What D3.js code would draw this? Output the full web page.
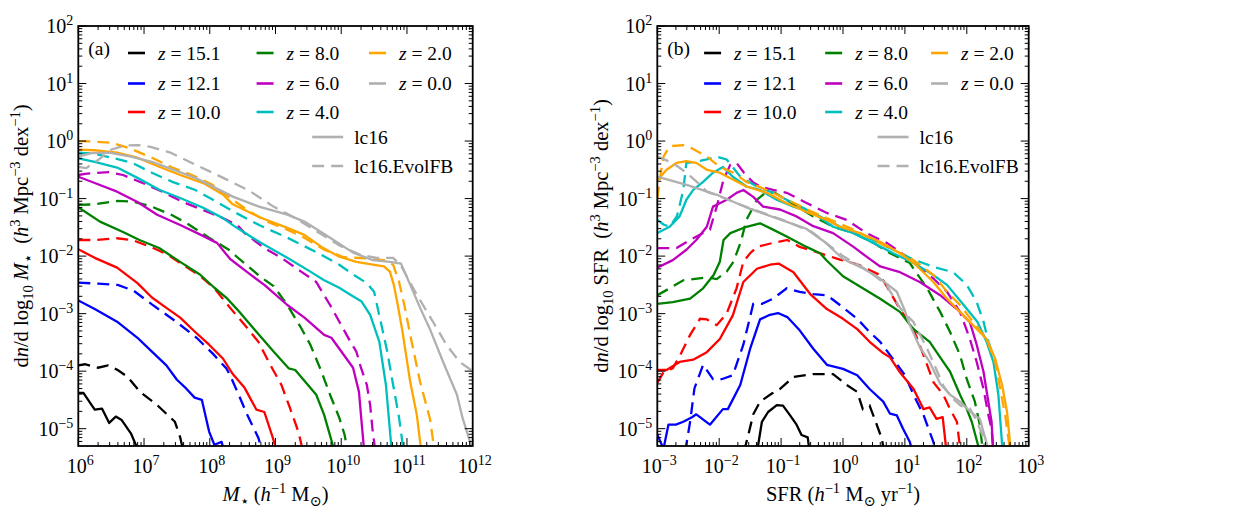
<!DOCTYPE html>
<html>
<head>
<meta charset="utf-8">
<script src="https://cdn.jsdelivr.net/npm/d3@7"></script>
<style>
  body { margin: 0; background: #fff; }
  svg text { font-family: "Liberation Serif", "DejaVu Serif", serif; white-space: pre; }
</style>
</head>
<body>
<svg id="chart" width="1240" height="525"></svg>
<script>
// values are [log10 x, log10 y]
const redshifts = ["15.1", "12.1", "10.0", "8.0", "6.0", "4.0", "2.0", "0.0"];
const zColors = ["#000000", "#0000ff", "#ff0000", "#008000", "#bf00bf", "#00bfbf", "#ffa500", "#b0b0b0"];

const xTicksSmf = [6, 7, 8, 9, 10, 11, 12];
const xTicksSfr = [-3, -2, -1, 0, 1, 2, 3];
const yTicks = [-5, -4, -3, -2, -1, 0, 1, 2];

// (a) stellar mass function, lc16
const smfLc16Z15 = [[6.0,-4.38],[6.08,-4.38],[6.25,-4.67],[6.36,-4.65],[6.47,-4.9],[6.57,-4.79],[6.66,-4.85],[6.8,-5.08],[6.92,-5.4]];
const smfLc16Z12 = [[6.0,-2.77],[6.25,-2.92],[6.59,-3.14],[6.9,-3.42],[7.12,-3.66],[7.34,-3.9],[7.5,-4.15],[7.64,-4.3],[7.77,-4.46],[7.88,-4.5],[7.99,-5.05],[8.07,-5.28],[8.18,-5.23],[8.22,-5.4]];
const smfLc16Z10 = [[6.0,-1.88],[6.25,-2.03],[6.59,-2.2],[6.9,-2.47],[7.12,-2.72],[7.34,-2.9],[7.55,-3.07],[7.77,-3.31],[7.99,-3.54],[8.2,-3.78],[8.35,-4.05],[8.53,-4.29],[8.71,-4.67],[8.83,-4.71],[8.96,-5.16],[9.02,-5.4]];
const smfLc16Z8 = [[6.0,-1.15],[6.33,-1.4],[6.68,-1.58],[6.93,-1.72],[7.23,-1.86],[7.55,-2.1],[7.85,-2.32],[8.07,-2.55],[8.25,-2.72],[8.42,-2.93],[8.66,-3.25],[8.97,-3.66],[9.2,-3.95],[9.3,-3.98],[9.62,-4.41],[9.74,-4.76],[9.85,-5.2],[9.9,-5.4]];
const smfLc16Z6 = [[6.0,-0.62],[6.25,-0.73],[6.59,-0.88],[6.9,-1.06],[7.2,-1.28],[7.55,-1.46],[7.81,-1.6],[8.11,-1.77],[8.31,-2.05],[8.57,-2.28],[8.83,-2.5],[9.18,-2.85],[9.44,-3.07],[9.74,-3.37],[9.85,-3.42],[10.04,-3.72],[10.18,-3.94],[10.27,-4.36],[10.3,-4.76],[10.35,-5.4]];
const smfLc16Z4 = [[6.0,-0.3],[6.25,-0.36],[6.59,-0.46],[6.9,-0.64],[7.24,-0.85],[7.55,-0.99],[7.9,-1.16],[8.2,-1.34],[8.4,-1.5],[8.75,-1.75],[9.18,-2.03],[9.53,-2.27],[9.74,-2.42],[9.97,-2.55],[10.14,-2.67],[10.31,-2.79],[10.44,-3.02],[10.58,-3.49],[10.68,-4.24],[10.76,-5.28],[10.78,-5.4]];
const smfLc16Z2 = [[6.0,-0.15],[6.25,-0.16],[6.59,-0.2],[6.9,-0.29],[7.24,-0.45],[7.55,-0.59],[7.9,-0.73],[8.2,-0.93],[8.35,-1.1],[8.75,-1.32],[9.18,-1.51],[9.44,-1.63],[9.7,-1.84],[9.97,-2.01],[10.23,-2.1],[10.48,-2.15],[10.65,-2.18],[10.74,-2.27],[10.8,-2.5],[10.86,-2.85],[10.93,-3.3],[11.05,-4.19],[11.15,-4.76],[11.2,-5.23],[11.22,-5.4]];
const smfLc16Z0 = [[6.0,-0.27],[6.2,-0.21],[6.47,-0.2],[6.8,-0.27],[7.12,-0.36],[7.78,-0.64],[8.36,-0.97],[8.75,-1.14],[9.18,-1.28],[9.44,-1.4],[9.83,-1.68],[10.18,-1.94],[10.48,-2.07],[10.74,-2.1],[10.91,-2.13],[11.05,-2.5],[11.2,-2.9],[11.35,-3.27],[11.55,-3.84],[11.76,-4.41],[11.85,-4.83],[11.96,-5.23],[12.0,-5.4]];

// (a) stellar mass function, lc16.EvolFB
const smfEvolZ15 = [[6.0,-3.9],[6.1,-3.88],[6.3,-3.94],[6.45,-3.9],[6.6,-3.98],[6.75,-4.1],[6.94,-4.36],[7.2,-4.59],[7.47,-4.88],[7.55,-5.15],[7.6,-5.4]];
const smfEvolZ12 = [[6.0,-2.46],[6.3,-2.48],[6.6,-2.5],[6.84,-2.6],[7.12,-2.84],[7.5,-3.15],[7.8,-3.42],[8.05,-3.7],[8.25,-3.95],[8.3,-4.05],[8.44,-4.41],[8.57,-4.76],[8.74,-5.16],[8.8,-5.4]];
const smfEvolZ10 = [[6.0,-1.72],[6.25,-1.72],[6.59,-1.69],[6.82,-1.72],[7.12,-1.85],[7.35,-1.97],[7.55,-2.12],[7.85,-2.34],[8.07,-2.56],[8.31,-2.9],[8.57,-3.25],[8.74,-3.49],[8.92,-3.89],[9.09,-4.24],[9.22,-4.64],[9.35,-5.06],[9.42,-5.4]];
const smfEvolZ8 = [[6.0,-1.11],[6.25,-1.1],[6.59,-1.04],[6.82,-1.05],[7.12,-1.14],[7.43,-1.29],[7.68,-1.45],[7.99,-1.68],[8.29,-1.89],[8.42,-2.02],[8.76,-2.35],[8.97,-2.52],[9.18,-2.85],[9.39,-3.25],[9.53,-3.54],[9.7,-4.01],[9.83,-4.41],[9.97,-4.81],[10.05,-5.1],[10.1,-5.4]];
const smfEvolZ6 = [[6.0,-0.59],[6.1,-0.57],[6.47,-0.54],[6.68,-0.59],[6.98,-0.73],[7.28,-0.88],[7.59,-1.06],[7.9,-1.2],[8.2,-1.34],[8.42,-1.46],[8.53,-1.6],[8.83,-1.86],[9.09,-2.03],[9.39,-2.27],[9.62,-2.45],[9.83,-2.85],[10.0,-3.2],[10.14,-3.49],[10.23,-3.66],[10.3,-3.94],[10.39,-4.24],[10.44,-4.59],[10.48,-5.06],[10.52,-5.4]];
const smfEvolZ4 = [[6.0,-0.2],[6.25,-0.22],[6.51,-0.29],[6.82,-0.38],[7.12,-0.55],[7.43,-0.71],[7.78,-0.85],[8.11,-1.06],[8.35,-1.22],[8.75,-1.46],[9.18,-1.68],[9.62,-1.93],[9.97,-2.15],[10.18,-2.32],[10.39,-2.47],[10.5,-2.62],[10.61,-3.19],[10.7,-3.66],[10.79,-4.24],[10.88,-4.81],[10.95,-5.4]];
const smfEvolZ2 = [[6.0,0.0],[6.25,-0.01],[6.51,-0.03],[6.77,-0.12],[7.12,-0.29],[7.43,-0.46],[7.73,-0.59],[8.04,-0.76],[8.3,-0.98],[8.57,-1.2],[8.87,-1.4],[9.18,-1.54],[9.44,-1.68],[9.74,-1.89],[10.04,-2.02],[10.39,-2.04],[10.65,-2.07],[10.79,-2.15],[10.88,-2.45],[10.96,-2.85],[11.05,-3.37],[11.2,-4.19],[11.35,-4.83],[11.4,-5.23],[11.42,-5.4]];
const smfEvolZ0 = [[6.0,-0.45],[6.12,-0.47],[6.3,-0.33],[6.5,-0.15],[6.7,-0.08],[6.9,-0.07],[7.1,-0.1],[7.4,-0.2],[7.8,-0.42],[8.26,-0.67],[8.61,-0.87],[8.97,-1.14],[9.27,-1.32],[9.6,-1.55],[9.98,-1.82],[10.3,-1.98],[10.54,-2.03],[10.79,-2.03],[10.9,-2.15],[11.15,-2.67],[11.4,-3.15],[11.6,-3.54],[11.8,-3.84],[12.0,-4.0]];

// (b) star formation rate function, lc16
const sfrLc16Z15 = [[-1.45,-5.5],[-1.37,-5.28],[-1.31,-4.88],[-1.21,-4.71],[-1.07,-4.59],[-0.97,-4.6],[-0.86,-4.76],[-0.75,-4.93],[-0.67,-5.11],[-0.57,-5.15],[-0.54,-5.4]];
const sfrLc16Z12 = [[-3,-5.1],[-2.9,-5.35],[-2.82,-4.93],[-2.7,-4.93],[-2.58,-4.88],[-2.44,-4.8],[-2.37,-4.75],[-2.15,-4.93],[-1.94,-4.66],[-1.86,-4.66],[-1.66,-4.24],[-1.5,-3.61],[-1.34,-3.1],[-1.18,-3.02],[-1.05,-2.99],[-0.9,-3.06],[-0.7,-3.29],[-0.48,-3.61],[-0.26,-3.89],[0.0,-3.96],[0.23,-4.07],[0.43,-4.31],[0.65,-4.53],[0.76,-4.74],[0.87,-4.77],[0.97,-5.0],[1.08,-5.23],[1.12,-5.4]];
const sfrLc16Z10 = [[-3,-3.98],[-2.85,-3.98],[-2.64,-3.84],[-2.42,-3.8],[-2.2,-3.67],[-1.99,-3.44],[-1.78,-3.03],[-1.61,-2.45],[-1.39,-2.22],[-1.18,-2.15],[-1.04,-2.13],[-0.8,-2.28],[-0.53,-2.66],[-0.26,-2.92],[0,-3.09],[0.23,-3.27],[0.43,-3.49],[0.63,-3.67],[0.76,-3.76],[0.92,-4.02],[1.14,-4.31],[1.3,-4.66],[1.4,-4.63],[1.51,-4.83],[1.61,-4.8],[1.65,-5.18],[1.67,-5.4]];
const sfrLc16Z8 = [[-3,-2.83],[-2.75,-2.8],[-2.47,-2.74],[-2.26,-2.56],[-2.09,-2.33],[-1.99,-2.1],[-1.93,-1.72],[-1.82,-1.6],[-1.56,-1.49],[-1.34,-1.43],[-1.13,-1.54],[-0.91,-1.66],[-0.59,-1.84],[-0.37,-1.95],[-0.26,-2.08],[0,-2.35],[0.32,-2.56],[0.6,-2.74],[0.92,-2.97],[1.14,-3.27],[1.4,-3.49],[1.62,-3.84],[1.73,-4.01],[1.89,-4.41],[2.0,-4.66],[2.08,-4.88],[2.18,-5.28],[2.2,-5.4]];
const sfrLc16Z6 = [[-3,-2.2],[-2.75,-2.07],[-2.53,-1.89],[-2.37,-1.72],[-2.2,-1.49],[-2.1,-1.14],[-1.99,-1.08],[-1.88,-1.02],[-1.72,-0.9],[-1.61,-0.85],[-1.45,-0.97],[-1.29,-1.14],[-1.02,-1.19],[-0.75,-1.31],[-0.48,-1.48],[-0.16,-1.6],[0.17,-1.84],[0.38,-2.01],[0.6,-2.18],[0.92,-2.28],[1.24,-2.45],[1.57,-2.68],[1.84,-2.92],[2.05,-3.15],[2.16,-3.54],[2.27,-4.01],[2.34,-4.48],[2.4,-4.88],[2.42,-5.27],[2.43,-5.4]];
const sfrLc16Z4 = [[-3,-1.6],[-2.8,-1.49],[-2.64,-1.31],[-2.53,-1.02],[-2.42,-0.85],[-2.26,-0.71],[-2.1,-0.55],[-1.94,-0.45],[-1.78,-0.62],[-1.56,-0.79],[-1.34,-0.85],[-1.07,-1.02],[-0.8,-1.14],[-0.48,-1.25],[-0.16,-1.49],[0.17,-1.6],[0.49,-1.77],[0.81,-1.95],[1.14,-2.12],[1.46,-2.33],[1.68,-2.5],[1.95,-2.85],[2.17,-3.14],[2.32,-3.49],[2.43,-3.84],[2.51,-4.41],[2.57,-5.27],[2.58,-5.4]];
const sfrLc16Z2 = [[-3,-0.68],[-2.85,-0.5],[-2.69,-0.38],[-2.53,-0.35],[-2.37,-0.38],[-2.2,-0.5],[-1.99,-0.55],[-1.78,-0.67],[-1.56,-0.79],[-1.23,-0.9],[-0.91,-1.08],[-0.59,-1.23],[-0.26,-1.37],[-0.05,-1.49],[0.27,-1.6],[0.6,-1.75],[0.92,-1.95],[1.14,-2.12],[1.24,-2.22],[1.46,-2.45],[1.68,-2.74],[1.89,-2.97],[2.1,-3.2],[2.32,-3.44],[2.46,-3.79],[2.57,-4.24],[2.65,-4.71],[2.7,-5.27],[2.71,-5.4]];
const sfrLc16Z0 = [[-3,-0.62],[-2.5,-0.77],[-2,-0.95],[-1.5,-1.18],[-1,-1.37],[-0.6,-1.52],[-0.3,-1.75],[0,-2.05],[0.3,-2.2],[0.6,-2.39],[0.87,-2.62],[1.0,-2.95],[1.08,-3.2],[1.24,-3.58],[1.4,-3.84],[1.57,-4.22],[1.73,-4.41],[1.89,-4.53],[2.05,-4.7],[2.21,-4.83],[2.32,-5.25],[2.35,-5.4]];

// (b) star formation rate function, lc16.EvolFB
const sfrEvolZ15 = [[-1.6,-5.4],[-1.53,-5.11],[-1.45,-4.75],[-1.34,-4.53],[-1.15,-4.39],[-1.02,-4.31],[-0.8,-4.1],[-0.48,-4.05],[-0.16,-4.05],[0.06,-4.24],[0.23,-4.36],[0.32,-4.66],[0.43,-4.6],[0.5,-4.8],[0.63,-5.18],[0.66,-5.4]];
const sfrEvolZ12 = [[-2.55,-5.4],[-2.47,-4.88],[-2.4,-4.3],[-2.26,-3.89],[-2.1,-4.14],[-1.96,-4.14],[-1.78,-4.07],[-1.61,-3.54],[-1.45,-2.83],[-1.31,-2.83],[-1.13,-2.74],[-0.91,-2.56],[-0.7,-2.62],[-0.48,-2.66],[-0.26,-2.68],[-0.05,-2.85],[0.23,-3.09],[0.43,-3.32],[0.6,-3.49],[0.81,-3.79],[1.0,-4.07],[1.14,-4.41],[1.3,-4.76],[1.46,-5.23],[1.5,-5.4]];
const sfrEvolZ10 = [[-3,-4.2],[-2.9,-4.02],[-2.75,-3.95],[-2.63,-3.72],[-2.47,-3.37],[-2.31,-3.09],[-2.2,-3.1],[-2.04,-3.2],[-1.88,-3.0],[-1.72,-2.56],[-1.61,-2.1],[-1.5,-1.95],[-1.39,-1.84],[-1.13,-1.77],[-0.9,-1.72],[-0.7,-1.84],[-0.37,-1.95],[-0.05,-2.06],[0.25,-2.15],[0.6,-2.33],[0.92,-2.92],[1.14,-3.27],[1.3,-3.72],[1.46,-4.19],[1.62,-4.41],[1.73,-4.66],[1.84,-4.88],[1.87,-5.15],[1.9,-5.4]];
const sfrEvolZ8 = [[-3,-2.68],[-2.8,-2.56],[-2.58,-2.42],[-2.42,-2.4],[-2.2,-2.37],[-2.04,-2.4],[-1.88,-2.27],[-1.77,-2.1],[-1.65,-1.75],[-1.56,-1.37],[-1.39,-1.02],[-1.23,-0.88],[-1.1,-0.9],[-0.74,-1.14],[-0.48,-1.31],[-0.16,-1.49],[0.17,-1.6],[0.49,-1.77],[0.76,-1.95],[1.08,-2.12],[1.14,-2.22],[1.36,-2.56],[1.57,-2.97],[1.73,-3.32],[1.89,-3.72],[2.0,-4.14],[2.13,-4.53],[2.21,-4.93],[2.26,-5.4]];
const sfrEvolZ6 = [[-3,-1.86],[-2.69,-1.86],[-2.47,-1.72],[-2.26,-1.6],[-2.15,-1.54],[-2.04,-1.14],[-1.93,-0.67],[-1.82,-0.41],[-1.72,-0.38],[-1.6,-0.55],[-1.45,-0.72],[-1.34,-0.79],[-1.13,-0.85],[-0.91,-0.9],[-0.58,-1.08],[-0.26,-1.25],[0.06,-1.37],[0.38,-1.6],[0.71,-1.77],[1.03,-2.01],[1.46,-2.39],[1.68,-2.62],[1.89,-2.97],[2.05,-3.44],[2.16,-3.84],[2.27,-4.31],[2.35,-4.77],[2.4,-5.0],[2.43,-5.4]];
const sfrEvolZ4 = [[-3,-1.37],[-2.9,-1.45],[-2.8,-1.49],[-2.68,-1.3],[-2.58,-0.85],[-2.53,-0.38],[-2.45,-0.37],[-2.2,-0.32],[-2.04,-0.27],[-1.88,-0.32],[-1.66,-0.62],[-1.39,-0.79],[-1.13,-0.9],[-0.8,-1.08],[-0.48,-1.25],[-0.16,-1.43],[0.17,-1.6],[0.49,-1.72],[0.81,-1.89],[1.14,-2.06],[1.5,-2.2],[1.78,-2.28],[2.0,-2.5],[2.16,-2.8],[2.27,-3.14],[2.35,-3.49],[2.4,-3.65]];
const sfrEvolZ2 = [[-3,-1.0],[-2.95,-0.6],[-2.9,-0.27],[-2.8,-0.09],[-2.58,-0.07],[-2.45,-0.12],[-2.2,-0.27],[-1.99,-0.45],[-1.77,-0.55],[-1.56,-0.71],[-1.23,-0.85],[-0.9,-1.02],[-0.58,-1.19],[-0.2,-1.37],[0.17,-1.54],[0.49,-1.72],[0.81,-1.89],[1.09,-2.03],[1.46,-2.33],[1.68,-2.62],[1.89,-2.85],[2.1,-3.14],[2.32,-3.44],[2.46,-3.84],[2.54,-4.31],[2.62,-4.77],[2.68,-5.23],[2.7,-5.4]];
const sfrEvolZ0 = [[-3,-0.27],[-2.75,-0.38],[-2.53,-0.55],[-2.31,-0.76],[-2.2,-0.88],[-2.0,-0.96],[-1.5,-1.17],[-1,-1.36],[-0.5,-1.58],[0,-2.0],[0.4,-2.25],[0.7,-2.5],[0.92,-2.9],[1.14,-3.15],[1.36,-3.61],[1.5,-3.95],[1.62,-4.25],[1.75,-4.45],[1.9,-4.6],[2.05,-4.65],[2.15,-4.85],[2.25,-5.1],[2.3,-5.4]];

const smfLc16 = [smfLc16Z15, smfLc16Z12, smfLc16Z10, smfLc16Z8, smfLc16Z6, smfLc16Z4, smfLc16Z2, smfLc16Z0];
const smfEvol = [smfEvolZ15, smfEvolZ12, smfEvolZ10, smfEvolZ8, smfEvolZ6, smfEvolZ4, smfEvolZ2, smfEvolZ0];
const sfrLc16 = [sfrLc16Z15, sfrLc16Z12, sfrLc16Z10, sfrLc16Z8, sfrLc16Z6, sfrLc16Z4, sfrLc16Z2, sfrLc16Z0];
const sfrEvol = [sfrEvolZ15, sfrEvolZ12, sfrEvolZ10, sfrEvolZ8, sfrEvolZ6, sfrEvolZ4, sfrEvolZ2, sfrEvolZ0];

const svg = d3.select("#chart");
const plotTop = 26, plotBottom = 446;
const y = d3.scaleLog().domain([5e-6, 1e2]).range([plotBottom, plotTop]);
const dash = "12,7";

// text with italic / super / subscript pieces
function rich(sel, parts, small) {
  let shift = 0;
  parts.forEach(([t, s]) => {
    const target = s === "sup" ? -8 : s === "sub" ? 5 : 0;
    const ts = sel.append("tspan").attr("dy", target - shift).text(t);
    shift = target;
    if (s === "sup" || s === "sub") ts.attr("font-size", small);
    if (s === "i") ts.attr("font-style", "italic");
  });
}
const expText = e => (e < 0 ? "\u2212" + (-e) : String(e));

const panels = [
  { left: 78.3, right: 472.7, xt: xTicksSmf, lc16: smfLc16, evol: smfEvol, tag: "(a)",
    xlab: [["M", "i"], ["\u22c6", "sub"], [" (", ""], ["h", "i"], ["\u22121", "sup"], [" M", ""], ["\u2299", "sub"], [")", ""]],
    ylab: [["d", ""], ["n", "i"], ["/d log", ""], ["10", "sub"], [" ", ""], ["M", "i"], ["\u22c6", "sub"], ["  (", ""], ["h", "i"], ["3", "sup"], [" Mpc", ""], ["\u22123", "sup"], [" dex", ""], ["\u22121", "sup"], [")", ""]],
    ylabX: 28 },
  { left: 657.3, right: 1028.7, xt: xTicksSfr, lc16: sfrLc16, evol: sfrEvol, tag: "(b)",
    xlab: [["SFR (", ""], ["h", "i"], ["\u22121", "sup"], [" M", ""], ["\u2299", "sub"], [" yr", ""], ["\u22121", "sup"], [")", ""]],
    ylab: [["d", ""], ["n", "i"], ["/d log", ""], ["10", "sub"], [" SFR  (", ""], ["h", "i"], ["3", "sup"], [" Mpc", ""], ["\u22123", "sup"], [" dex", ""], ["\u22121", "sup"], [")", ""]],
    ylabX: 608 }
];

panels.forEach((p, pi) => {
  const xt = p.xt;
  const x = d3.scaleLog().domain([10 ** xt[0], 10 ** xt[xt.length - 1]]).range([p.left, p.right]);
  const w = p.right - p.left;

  const clipId = "clip" + pi;
  svg.append("clipPath").attr("id", clipId).append("rect")
    .attr("x", p.left).attr("y", plotTop).attr("width", w).attr("height", plotBottom - plotTop);

  const line = d3.line().x(d => x(10 ** d[0])).y(d => y(10 ** d[1]));
  const g = svg.append("g").attr("clip-path", `url(#${clipId})`);
  redshifts.forEach((z, i) => {
    g.append("path").attr("d", line(p.lc16[i])).attr("fill", "none")
      .attr("stroke", zColors[i]).attr("stroke-width", 2.3).attr("stroke-linejoin", "round");
    g.append("path").attr("d", line(p.evol[i])).attr("fill", "none")
      .attr("stroke", zColors[i]).attr("stroke-width", 2.3).attr("stroke-dasharray", dash);
  });

  // ticks, inward on all four sides
  const ax = svg.append("g").attr("stroke", "#000").attr("stroke-width", 1);
  const xMinor = [], yMinor = [];
  for (let d = xt[0]; d < xt[xt.length - 1]; d++) for (let k = 2; k < 10; k++) xMinor.push(k * 10 ** d);
  for (let d = -6; d < 2; d++) for (let k = 2; k < 10; k++) { const v = k * 10 ** d; if (v > 5e-6) yMinor.push(v); }
  const xMaj = xt.map(e => 10 ** e), yMaj = yTicks.map(e => 10 ** e);
  [[xMaj, 8], [xMinor, 4]].forEach(([vals, len]) => vals.forEach(v => {
    ax.append("line").attr("x1", x(v)).attr("x2", x(v)).attr("y1", plotBottom).attr("y2", plotBottom - len);
    ax.append("line").attr("x1", x(v)).attr("x2", x(v)).attr("y1", plotTop).attr("y2", plotTop + len);
  }));
  [[yMaj, 8], [yMinor, 4]].forEach(([vals, len]) => vals.forEach(v => {
    ax.append("line").attr("y1", y(v)).attr("y2", y(v)).attr("x1", p.left).attr("x2", p.left + len);
    ax.append("line").attr("y1", y(v)).attr("y2", y(v)).attr("x1", p.right).attr("x2", p.right - len);
  }));
  svg.append("rect").attr("x", p.left).attr("y", plotTop).attr("width", w).attr("height", plotBottom - plotTop)
    .attr("fill", "none").attr("stroke", "#000").attr("stroke-width", 1.8);

  // tick labels
  xt.forEach(e => {
    const t = svg.append("text").attr("x", x(10 ** e) + 2).attr("y", 473)
      .attr("text-anchor", "middle").attr("font-size", 20);
    rich(t, [["10", ""], [expText(e), "sup"]], 14);
  });
  yTicks.forEach(e => {
    const t = svg.append("text").attr("x", p.left - 5).attr("y", y(10 ** e) + 7)
      .attr("text-anchor", "end").attr("font-size", 20);
    rich(t, [["10", ""], [expText(e), "sup"]], 14);
  });

  // axis titles
  const xl = svg.append("text").attr("x", (p.left + p.right) / 2).attr("y", 501)
    .attr("text-anchor", "middle").attr("font-size", 20.5);
  rich(xl, p.xlab, 14.5);
  const yl = svg.append("text").attr("transform", `translate(${p.ylabX},${(plotTop + plotBottom) / 2}) rotate(-90)`)
    .attr("text-anchor", "middle").attr("font-size", 20.5);
  rich(yl, p.ylab, 14.5);

  svg.append("text").attr("x", p.left + 10).attr("y", 55).attr("font-size", 19.5).text(p.tag);

  // legend
  const colFrac = [0.126, 0.452, 0.737], rowY = [53, 83.5, 112];
  redshifts.forEach((z, i) => {
    const lx = p.left + colFrac[Math.floor(i / 3)] * w, ly = rowY[i % 3];
    svg.append("line").attr("x1", lx).attr("x2", lx + 17).attr("y1", ly).attr("y2", ly)
      .attr("stroke", zColors[i]).attr("stroke-width", 2.6);
    const t = svg.append("text").attr("x", lx + 30).attr("y", ly + 6.5).attr("font-size", 19.5);
    rich(t, [["z", "i"], [" = " + z, ""]], 14);
  });
  const mx = p.left + 0.593 * w;
  [["lc16", null, 137], ["lc16.EvolFB", dash, 166]].forEach(([name, da, ly]) => {
    svg.append("line").attr("x1", mx).attr("x2", mx + 31).attr("y1", ly).attr("y2", ly)
      .attr("stroke", zColors[7]).attr("stroke-width", 2.6).attr("stroke-dasharray", da);
    svg.append("text").attr("x", mx + 42).attr("y", ly + 6.5).attr("font-size", 19.5).text(name);
  });
});
</script>
</body>
</html>
